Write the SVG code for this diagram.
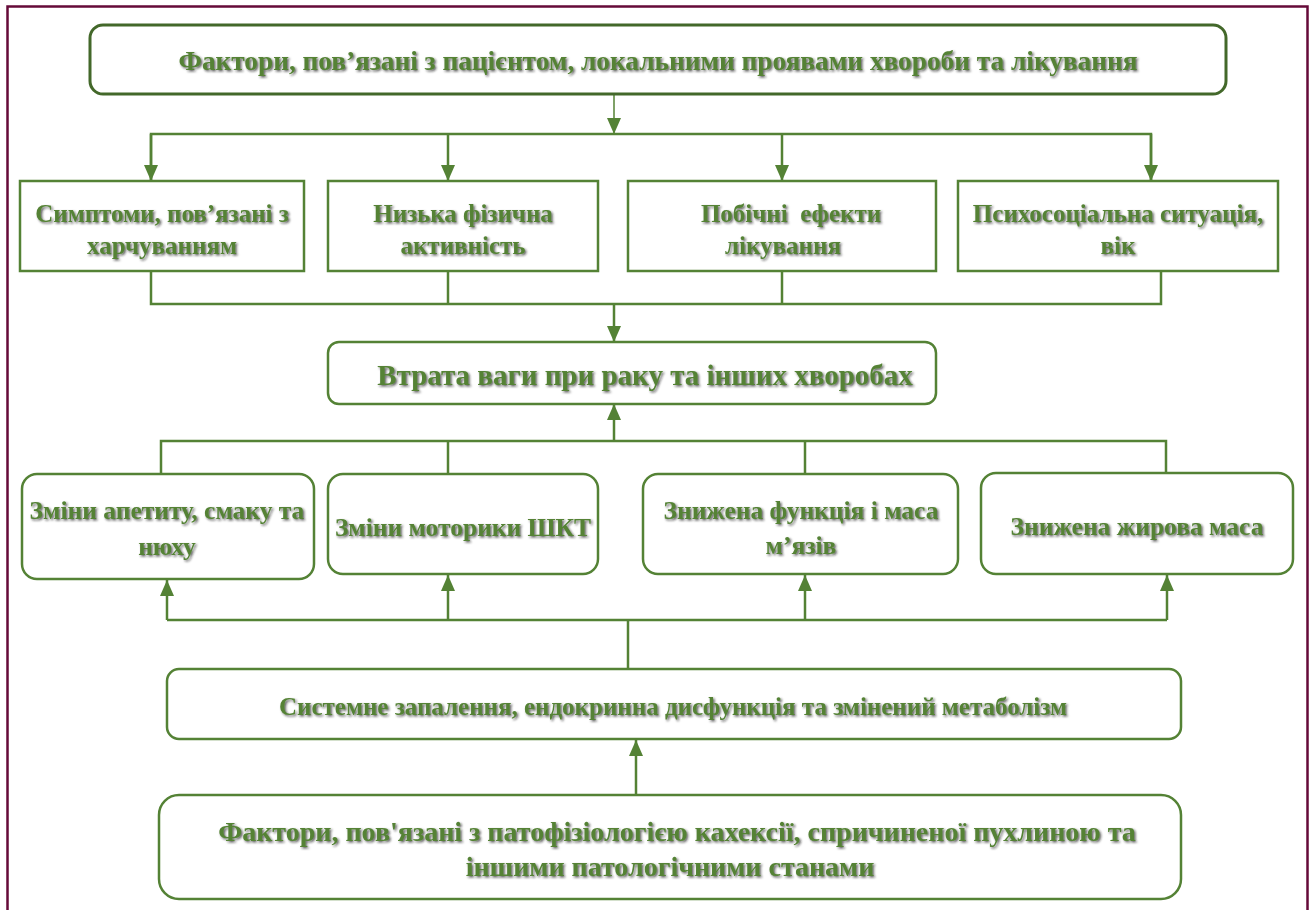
<svg xmlns="http://www.w3.org/2000/svg" width="1312" height="910" viewBox="0 0 1312 910">
<defs>
<style>
.t{font-family:"Liberation Serif","Times New Roman",serif;font-weight:bold;fill:#548235;text-anchor:middle;filter:url(#sh);}
.b{fill:#fff;stroke:#548235;stroke-width:2.5;}
.bd{fill:#fff;stroke:#43682a;stroke-width:3;}
.c{fill:none;stroke:#548235;stroke-width:2.5;}
.c1{fill:none;stroke:#548235;stroke-width:1.5;}
</style>
<filter id="sh" x="-5%" y="-20%" width="110%" height="150%">
<feDropShadow dx="1.5" dy="1.5" stdDeviation="0.8" flood-color="#1a1a1a" flood-opacity="0.7"/>
</filter>
<marker id="dn" viewBox="0 0 14 16" refX="7" refY="16" markerWidth="14" markerHeight="16" markerUnits="userSpaceOnUse" orient="0">
<path d="M0,0 L14,0 L7,16 Z" fill="#548235"/>
</marker>
<marker id="up" viewBox="0 0 14 16" refX="7" refY="0" markerWidth="14" markerHeight="16" markerUnits="userSpaceOnUse" orient="0">
<path d="M0,16 L14,16 L7,0 Z" fill="#548235"/>
</marker>
</defs>
<rect x="0" y="0" width="1312" height="910" fill="#fff"/>
<rect x="7.5" y="6.5" width="1300" height="920" fill="none" stroke="#650a38" stroke-width="2.5"/>

<g id="connectors">
<line class="c1" x1="614" y1="94" x2="614" y2="134" marker-end="url(#dn)"/>
<polyline class="c" points="151,181 151,134 1151,134 1151,181"/>
<line class="c" x1="151" y1="134" x2="151" y2="181" marker-end="url(#dn)"/>
<line class="c" x1="448" y1="134" x2="448" y2="181" marker-end="url(#dn)"/>
<line class="c" x1="782" y1="134" x2="782" y2="181" marker-end="url(#dn)"/>
<line class="c" x1="1151" y1="134" x2="1151" y2="181" marker-end="url(#dn)"/>
<polyline class="c" points="151,271 151,304 1161,304 1161,271"/>
<line class="c" x1="448" y1="271" x2="448" y2="304"/>
<line class="c" x1="782" y1="271" x2="782" y2="304"/>
<line class="c" x1="614" y1="304" x2="614" y2="342" marker-end="url(#dn)"/>
<polyline class="c" points="161,474 161,441 1166,441 1166,473"/>
<line class="c" x1="448" y1="441" x2="448" y2="474"/>
<line class="c" x1="805" y1="441" x2="805" y2="474"/>
<line class="c" x1="614" y1="441" x2="614" y2="404" marker-end="url(#up)"/>
<polyline class="c" points="167,620 1167,620"/>
<line class="c" x1="167" y1="620" x2="167" y2="580" marker-end="url(#up)"/>
<line class="c" x1="448" y1="620" x2="448" y2="575" marker-end="url(#up)"/>
<line class="c" x1="805" y1="620" x2="805" y2="575" marker-end="url(#up)"/>
<line class="c" x1="1167" y1="620" x2="1167" y2="575" marker-end="url(#up)"/>
<line class="c" x1="628" y1="620" x2="628" y2="669"/>
<line class="c" x1="636" y1="795" x2="636" y2="740" marker-end="url(#up)"/>
</g>

<g id="n-top">
<rect class="bd" x="90" y="25" width="1136" height="69" rx="13"/>
<text class="t" x="658" y="70" font-size="27.3">Фактори, пов’язані з пацієнтом, локальними проявами хвороби та лікування</text>
</g>
<g id="n-symptoms">
<rect class="b" x="20" y="181" width="284" height="90"/>
<text class="t" x="162" y="222" font-size="25">Симптоми, пов’язані з</text>
<text class="t" x="162" y="254" font-size="25">харчуванням</text>
</g>
<g id="n-activity">
<rect class="b" x="328" y="181" width="270" height="90"/>
<text class="t" x="463" y="222" font-size="25">Низька фізична</text>
<text class="t" x="463" y="254" font-size="25">активність</text>
</g>
<g id="n-side">
<rect class="b" x="628" y="181" width="308" height="90"/>
<text class="t" x="791" y="222" font-size="25" xml:space="preserve">Побічні  ефекти</text>
<text class="t" x="783" y="254" font-size="25">лікування</text>
</g>
<g id="n-psycho">
<rect class="b" x="958" y="181" width="320" height="90"/>
<text class="t" x="1118" y="222" font-size="25">Психосоціальна ситуація,</text>
<text class="t" x="1118" y="254" font-size="25">вік</text>
</g>
<g id="n-loss">
<rect class="b" x="328" y="342" width="608" height="62" rx="11"/>
<text class="t" x="645" y="385" font-size="29">Втрата ваги при раку та інших хворобах</text>
</g>
<g id="n-appetite">
<rect class="b" x="22" y="474" width="292" height="105" rx="15"/>
<text class="t" x="167" y="519" font-size="25.5">Зміни апетиту, смаку та</text>
<text class="t" x="167" y="555" font-size="25.5">нюху</text>
</g>
<g id="n-gi">
<rect class="b" x="328" y="474" width="270" height="100" rx="15"/>
<text class="t" x="463" y="536" font-size="25.5">Зміни моторики ШКТ</text>
</g>
<g id="n-muscle">
<rect class="b" x="643" y="474" width="315" height="100" rx="15"/>
<text class="t" x="801" y="519" font-size="25.5">Знижена функція і маса</text>
<text class="t" x="801" y="554" font-size="25.5">м’язів</text>
</g>
<g id="n-fat">
<rect class="b" x="981" y="473" width="312" height="101" rx="15"/>
<text class="t" x="1137" y="535" font-size="25.5">Знижена жирова маса</text>
</g>
<g id="n-systemic">
<rect class="b" x="167" y="669" width="1014" height="70" rx="12"/>
<text class="t" x="673" y="715" font-size="25">Системне запалення, ендокринна дисфункція та змінений метаболізм</text>
</g>
<g id="n-bottom">
<rect class="b" x="159" y="795" width="1022" height="104" rx="20"/>
<text class="t" x="677" y="841" font-size="28">Фактори, пов'язані з патофізіологією кахексії, спричиненої пухлиною та</text>
<text class="t" x="670" y="876" font-size="28">іншими патологічними станами</text>
</g>
</svg>
